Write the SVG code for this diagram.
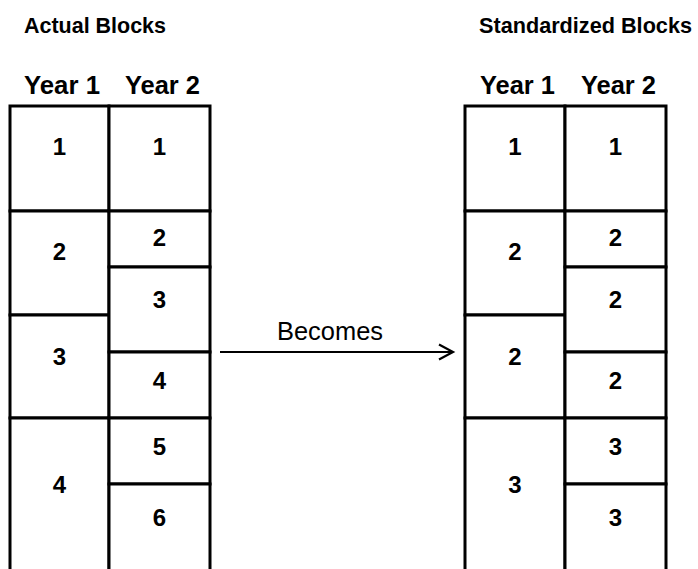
<svg xmlns="http://www.w3.org/2000/svg" width="698" height="569" viewBox="0 0 698 569">
<defs>
<style>
.cell{fill:#fff;stroke:#000;stroke-width:3}
.t{font-family:"Liberation Sans",Arial,sans-serif;font-weight:bold;font-size:24px;fill:#000;text-anchor:middle}
.h{font-family:"Liberation Sans",Arial,sans-serif;font-weight:bold;font-size:21.5px;fill:#000}
.y{font-family:"Liberation Sans",Arial,sans-serif;font-weight:bold;font-size:25px;fill:#000}
.c{stroke:#000;stroke-width:2.2;fill:none}
.lbl{font-family:"Liberation Sans",Arial,sans-serif;font-size:25px;fill:#000;text-anchor:middle}
</style>
</defs>
<rect width="698" height="569" fill="#fff"/>
<g id="titles">
<text class="h" x="24" y="33" textLength="142" lengthAdjust="spacingAndGlyphs">Actual Blocks</text>
<text class="h" x="479" y="33" textLength="213" lengthAdjust="spacingAndGlyphs">Standardized Blocks</text>
<text class="y" x="24" y="94" textLength="76" lengthAdjust="spacingAndGlyphs">Year 1</text>
<text class="y" x="125" y="94" textLength="75" lengthAdjust="spacingAndGlyphs">Year 2</text>
<text class="y" x="480" y="94" textLength="75" lengthAdjust="spacingAndGlyphs">Year 1</text>
<text class="y" x="581" y="94" textLength="75" lengthAdjust="spacingAndGlyphs">Year 2</text>
</g>
<g id="actual">
<g id="a-y1-1"><rect class="cell" x="10" y="106" width="99" height="105"/><text class="t" x="59.5" y="155">1</text></g>
<g id="a-y1-2"><rect class="cell" x="10" y="211" width="99" height="104"/><text class="t" x="59.5" y="260">2</text></g>
<g id="a-y1-3"><rect class="cell" x="10" y="315" width="99" height="103"/><text class="t" x="59.5" y="365">3</text></g>
<g id="a-y1-4"><rect class="cell" x="10" y="418" width="99" height="170"/><text class="t" x="59.5" y="493">4</text></g>
<g id="a-y2-1"><rect class="cell" x="109" y="106" width="101" height="105"/><text class="t" x="159.5" y="155">1</text></g>
<g id="a-y2-2"><rect class="cell" x="109" y="211" width="101" height="56"/><text class="t" x="159.5" y="246">2</text></g>
<g id="a-y2-3"><rect class="cell" x="109" y="267" width="101" height="85"/><text class="t" x="159.5" y="308">3</text></g>
<g id="a-y2-4"><rect class="cell" x="109" y="352" width="101" height="66"/><text class="t" x="159.5" y="389">4</text></g>
<g id="a-y2-5"><rect class="cell" x="109" y="418" width="101" height="66"/><text class="t" x="159.5" y="455">5</text></g>
<g id="a-y2-6"><rect class="cell" x="109" y="484" width="101" height="104"/><text class="t" x="159.5" y="526">6</text></g>
</g>
<g id="standardized">
<g id="s-y1-1"><rect class="cell" x="465" y="106" width="100" height="105"/><text class="t" x="515" y="155">1</text></g>
<g id="s-y1-2"><rect class="cell" x="465" y="211" width="100" height="104"/><text class="t" x="515" y="260">2</text></g>
<g id="s-y1-3"><rect class="cell" x="465" y="315" width="100" height="103"/><text class="t" x="515" y="365">2</text></g>
<g id="s-y1-4"><rect class="cell" x="465" y="418" width="100" height="170"/><text class="t" x="515" y="493">3</text></g>
<g id="s-y2-1"><rect class="cell" x="565" y="106" width="101" height="105"/><text class="t" x="615.5" y="155">1</text></g>
<g id="s-y2-2"><rect class="cell" x="565" y="211" width="101" height="56"/><text class="t" x="615.5" y="246">2</text></g>
<g id="s-y2-3"><rect class="cell" x="565" y="267" width="101" height="85"/><text class="t" x="615.5" y="308">2</text></g>
<g id="s-y2-4"><rect class="cell" x="565" y="352" width="101" height="66"/><text class="t" x="615.5" y="389">2</text></g>
<g id="s-y2-5"><rect class="cell" x="565" y="418" width="101" height="66"/><text class="t" x="615.5" y="455">3</text></g>
<g id="s-y2-6"><rect class="cell" x="565" y="484" width="101" height="104"/><text class="t" x="615.5" y="526">3</text></g>
</g>
<g id="connectors">
<line class="c" x1="220" y1="352" x2="453" y2="352"/>
<polyline class="c" points="439,344.5 453,352 439,359.5"/>
<text class="lbl" x="330" y="340" textLength="106" lengthAdjust="spacingAndGlyphs">Becomes</text>
</g>
</svg>
